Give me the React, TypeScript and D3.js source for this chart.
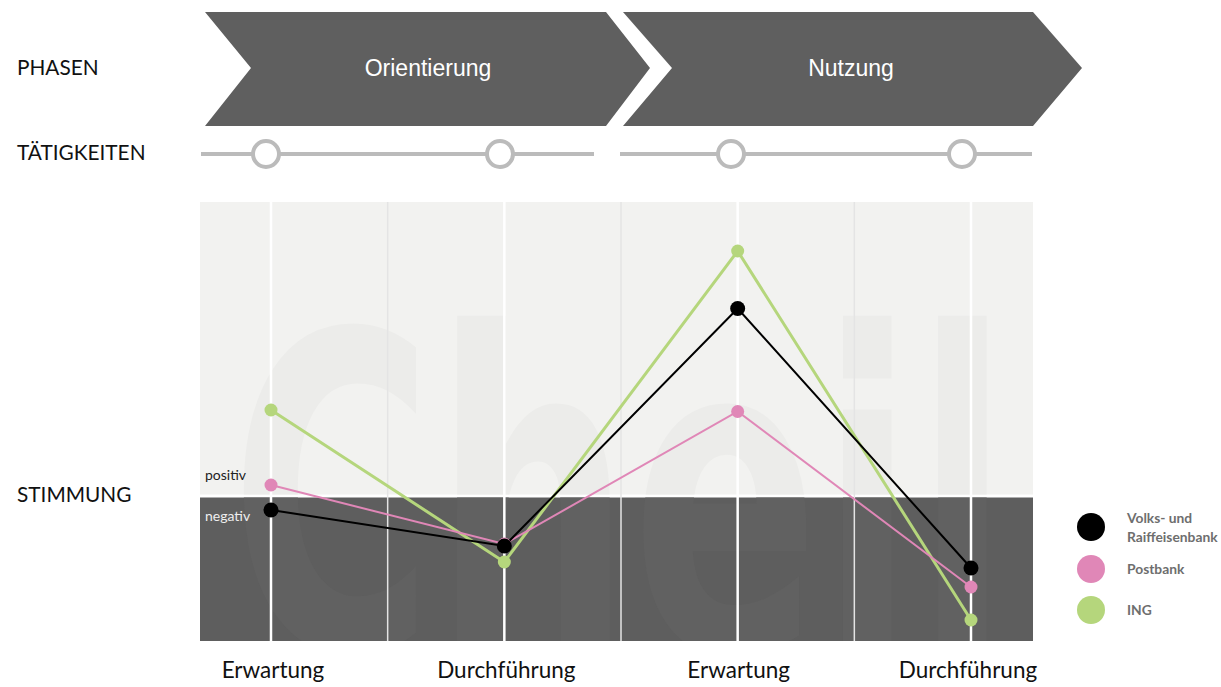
import React, { useEffect, useRef } from 'react';
import * as d3 from 'd3';

const width = 1221;
const height = 687;

// phases, activities and mood per step
const phases = ['Orientierung', 'Nutzung'];
const activities = ['Erwartung', 'Durchführung', 'Erwartung', 'Durchführung'];
const volksValues = [-0.14, -0.5, 1.875, -0.72];
const postbankValues = [0.11, -0.48, 0.845, -0.91];
const ingValues = [0.86, -0.66, 2.45, -1.24];

const seriesNames = ['Volks- und Raiffeisenbank', 'Postbank', 'ING'];
const seriesColors = ['#000000', '#e087b7', '#b5d67c'];
const seriesValues = [volksValues, postbankValues, ingValues];

const App: React.FC = () => {
  const svgRef = useRef<SVGSVGElement>(null);

  useEffect(() => {
    if (!svgRef.current) return;
    const svg = d3.select(svgRef.current);
    svg.selectAll('*').remove();

    const plotLeft = 200, plotRight = 1033, plotTop = 202, plotBottom = 641;

    // 7 grid columns, activities sit on every other one
    const gridIdx = d3.range(7);
    const x = d3.scalePoint<number>().domain(gridIdx).range([271, 971]);
    const actX = (i: number) => x(i * 2) as number;

    const y = d3.scaleLinear().domain([-1.45, 2.94]).range([plotBottom, plotTop]);
    const zeroY = y(0);

    // left row labels
    const rowLabels = [
      { t: 'PHASEN', y: 75 },
      { t: 'TÄTIGKEITEN', y: 160 },
      { t: 'STIMMUNG', y: 502 },
    ];
    svg.selectAll('text.row')
      .data(rowLabels)
      .enter()
      .append('text')
      .attr('class', 'row')
      .attr('x', 17)
      .attr('y', d => d.y)
      .attr('font-family', 'Lato, sans-serif')
      .attr('font-size', 20.8)
      .attr('fill', '#111')
      .text(d => d.t);

    // phase chevrons
    const chevrons = [
      { x0: 205, x1: 606, notch: 46, tip: 44, cx: 428 },
      { x0: 623, x1: 1033, notch: 49, tip: 49, cx: 851 },
    ];
    const cTop = 12, cBot = 126, cMid = 68;
    chevrons.forEach((c, i) => {
      const pts = [
        [c.x0, cTop], [c.x1, cTop], [c.x1 + c.tip, cMid], [c.x1, cBot],
        [c.x0, cBot], [c.x0 + c.notch, cMid],
      ];
      svg.append('path')
        .attr('d', d3.line()(pts as [number, number][]) + 'Z')
        .attr('fill', '#5f5f5f');
      svg.append('text')
        .attr('x', c.cx)
        .attr('y', cMid + 8)
        .attr('text-anchor', 'middle')
        .attr('font-family', '"Liberation Sans", Arial, sans-serif')
        .attr('font-size', 23)
        .attr('fill', '#fff')
        .text(phases[i]);
    });

    // activity timeline
    const tlY = 154;
    [[201, 594], [620, 1032]].forEach(([a, b]) => {
      svg.append('line')
        .attr('x1', a).attr('x2', b)
        .attr('y1', tlY).attr('y2', tlY)
        .attr('stroke', '#bbbbbb')
        .attr('stroke-width', 4);
    });
    const tlCircles = [266, 500, 731, 962];
    svg.selectAll('circle.tl')
      .data(tlCircles)
      .enter()
      .append('circle')
      .attr('class', 'tl')
      .attr('cx', d => d)
      .attr('cy', tlY)
      .attr('r', 13)
      .attr('fill', '#fff')
      .attr('stroke', '#bbbbbb')
      .attr('stroke-width', 4);

    // plot background
    svg.append('rect')
      .attr('x', plotLeft).attr('y', plotTop)
      .attr('width', plotRight - plotLeft).attr('height', zeroY - 1.5 - plotTop)
      .attr('fill', '#f2f2f0');
    svg.append('rect')
      .attr('x', plotLeft).attr('y', zeroY + 1.5)
      .attr('width', plotRight - plotLeft).attr('height', plotBottom - zeroY - 1.5)
      .attr('fill', '#5e5e5e');

    // watermark (faint logo behind the plot)
    const defs = svg.append('defs');
    defs.append('clipPath').attr('id', 'clipTop')
      .append('rect')
      .attr('x', plotLeft).attr('y', plotTop)
      .attr('width', plotRight - plotLeft).attr('height', zeroY - 1.5 - plotTop);
    defs.append('clipPath').attr('id', 'clipBot')
      .append('rect')
      .attr('x', plotLeft).attr('y', zeroY + 1.5)
      .attr('width', plotRight - plotLeft).attr('height', plotBottom - zeroY - 1.5);
    [['clipTop', '#ececea'], ['clipBot', '#616161']].forEach(([clip, col]) => {
      svg.append('text')
        .attr('clip-path', `url(#${clip})`)
        .attr('x', 230)
        .attr('y', 650)
        .attr('font-family', '"DejaVu Sans", sans-serif')
        .attr('font-weight', 'bold')
        .attr('font-size', 440)
        .attr('textLength', 780)
        .attr('lengthAdjust', 'spacingAndGlyphs')
        .attr('fill', col)
        .text('Cheil');
    });

    // vertical grid lines
    svg.selectAll('line.grid')
      .data(gridIdx)
      .enter()
      .append('line')
      .attr('class', 'grid')
      .attr('x1', d => x(d) as number)
      .attr('x2', d => x(d) as number)
      .attr('y1', plotTop)
      .attr('y2', plotBottom)
      .attr('stroke', d => (d % 2 === 0 ? '#ffffff' : '#e4e4e4'))
      .attr('stroke-width', d => (d % 2 === 0 ? 2.5 : 1.5));

    // positiv / negativ
    svg.append('text')
      .attr('x', 205).attr('y', zeroY - 16)
      .attr('font-family', 'Lato, sans-serif')
      .attr('font-size', 14)
      .attr('fill', '#222')
      .text('positiv');
    svg.append('text')
      .attr('x', 205).attr('y', zeroY + 25)
      .attr('font-family', 'Lato, sans-serif')
      .attr('font-size', 14)
      .attr('fill', '#eeeeee')
      .text('negativ');

    // series lines (drawn green, pink, black)
    const line = d3.line<number>()
      .x((_, i) => actX(i))
      .y(d => y(d));
    const order = [2, 1, 0];
    const widths = [2, 2, 3];
    order.forEach(s => {
      svg.append('path')
        .attr('d', line(seriesValues[s]))
        .attr('fill', 'none')
        .attr('stroke', seriesColors[s])
        .attr('stroke-width', widths[s]);
    });
    const radii = [7.5, 6.5, 6.5];
    order.forEach(s => {
      svg.append('g')
        .selectAll('circle')
        .data(seriesValues[s])
        .enter()
        .append('circle')
        .attr('cx', (_, i) => actX(i))
        .attr('cy', d => y(d))
        .attr('r', radii[s])
        .attr('fill', seriesColors[s]);
    });

    // activity labels
    const labelShift = [2, 2, 1, -3];
    svg.selectAll('text.act')
      .data(activities)
      .enter()
      .append('text')
      .attr('class', 'act')
      .attr('x', (_, i) => actX(i) + labelShift[i])
      .attr('y', 678)
      .attr('text-anchor', 'middle')
      .attr('font-family', 'Lato, sans-serif')
      .attr('font-size', 22.5)
      .attr('fill', '#111')
      .text(d => d);

    // legend
    const legendY = [527, 569, 610];
    seriesNames.forEach((name, i) => {
      svg.append('circle')
        .attr('cx', 1091).attr('cy', legendY[i])
        .attr('r', 14)
        .attr('fill', seriesColors[i]);
      const lines = i === 0 ? ['Volks- und', 'Raiffeisenbank'] : [name];
      const t = svg.append('text')
        .attr('font-family', 'Lato, sans-serif')
        .attr('font-weight', 'bold')
        .attr('font-size', 13.8)
        .attr('fill', '#6e6e6e');
      lines.forEach((l, k) => {
        t.append('tspan')
          .attr('x', 1127)
          .attr('y', legendY[i] + 5 + (lines.length > 1 ? (k - 0.5) * 19 : 0))
          .text(l);
      });
    });
  }, []);

  return (
    <svg
      ref={svgRef}
      width={width}
      height={height}
      style={{ position: 'absolute', left: 0, top: 0, background: '#fff' }}
    />
  );
};

export default App;
